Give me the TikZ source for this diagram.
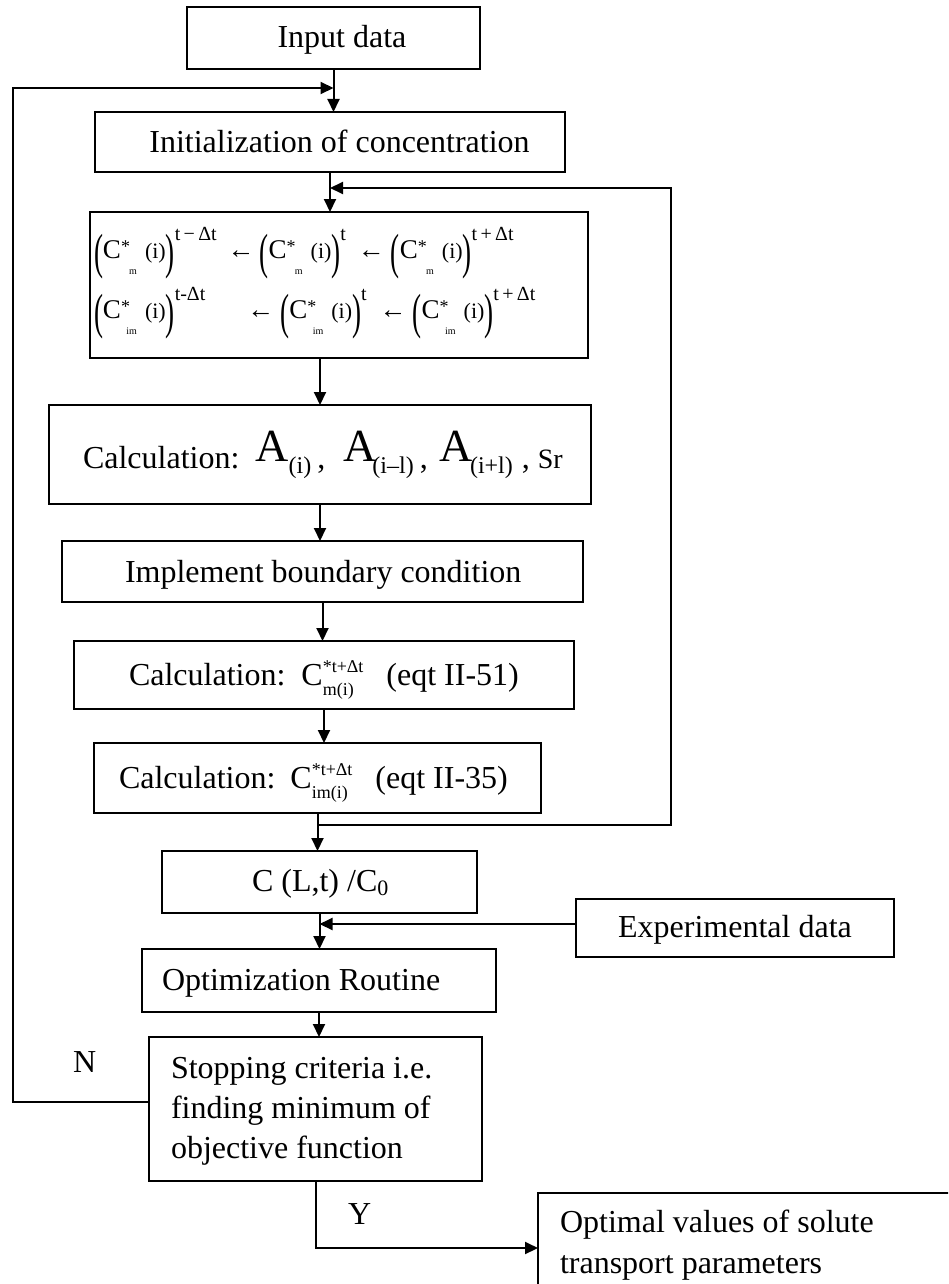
\documentclass[tikz,border=0pt]{standalone}
\usepackage{fontspec}
\setmainfont{Liberation Serif}
\usepackage{graphicx}
\usetikzlibrary{arrows.meta}

\newcommand{\fs}[1]{\fontsize{#1}{#1}\selectfont}
% big stretched parenthesis
\newcommand{\bp}[1]{\raisebox{-5.2pt}{\scalebox{1}[1.83]{#1}}}
% C with star and low subscript
\newcommand{\Cs}[1]{C\rlap{\raisebox{3pt}{\fs{9}*}}\makebox[8pt][r]{\raisebox{-8pt}{\fs{5}#1}}}
\newcommand{\up}[1]{\raisebox{9pt}{\fs{10}#1}}
\newcommand{\term}[2]{\bp{(}\Cs{#1}\hspace{4pt}{\fs{11}(i)}\bp{)}\up{#2}}
% C with superscript over subscript (superscript wider)
\newcommand{\Csc}[2]{\rlap{\raisebox{-5pt}{\fs{9}#2}}\raisebox{6.5pt}{\fs{9}#1}}
% big A with subscript
\newcommand{\Aterm}[2]{\raisebox{3.5pt}{\fs{23}A}\kern#1\raisebox{-2.5pt}{\fs{12}#2}}

\tikzset{
  box/.style={draw, line width=1pt, inner sep=0pt, outer sep=0pt},
  txt/.style={inner sep=0pt, outer sep=0pt, font=\fontsize{16}{20}\selectfont},
  arr/.style={line width=1pt, -{Triangle[length=6.5pt,width=6pt]}},
}

\begin{document}
\begin{tikzpicture}[x=0.5pt,y=-0.5pt]
\useasboundingbox (0,0) rectangle (948,1284);
\clip (0,0) rectangle (948,1284);

% boxes
\node[box, minimum width=146.5pt, minimum height=31pt] (input) at (333.5,38) {};
\node[box, minimum width=235pt, minimum height=30pt] (init) at (330,142) {};
\node[box, minimum width=249pt, minimum height=73pt] (formula) at (339,285) {};
\node[box, minimum width=271pt, minimum height=49.5pt] (calcA) at (320,454.5) {};
\node[box, minimum width=260.5pt, minimum height=30.5pt] (impl) at (322.5,571.5) {};
\node[box, minimum width=250pt, minimum height=34pt] (calcm) at (324,675) {};
\node[box, minimum width=223.5pt, minimum height=35pt] (calcim) at (317.5,778) {};
\node[box, minimum width=157.5pt, minimum height=31pt] (clt) at (319.5,882) {};
\node[box, minimum width=159pt, minimum height=29pt] (exp) at (735,928) {};
\node[box, minimum width=177pt, minimum height=31.5pt] (opt) at (319,980.5) {};
\node[box, minimum width=166.5pt, minimum height=72pt] (stop) at (315.5,1109) {};
\node[box, minimum width=261pt, minimum height=55pt] (optimal) at (799,1248) {};

% texts
\node[txt, anchor=base] (tinput) at (342,48) {Input data};
\node[txt, anchor=base] (tinit) at (339.5,152) {Initialization of concentration};
\node[txt, anchor=base west] (row1) at (94,258) {\fs{13.5}\term{m}{t\,−\,Δt}\hspace{5.5pt}←\hspace{2.5pt}\term{m}{t}\hspace{6pt}←\hspace{3pt}\term{m}{t\,+\,Δt}};
\node[txt, anchor=base west] (row2) at (94,318) {\fs{13.5}\term{im}{t-Δt}\hspace{21pt}←\hspace{3pt}\term{im}{t}\hspace{6.5pt}←\hspace{3pt}\term{im}{t\,+\,Δt}};
\node[txt, anchor=base west] (tcalcA) at (83,468) {Calculation:\hspace{8pt}\Aterm{0pt}{(i)}\hspace{3pt},\hspace{9pt}\Aterm{-2pt}{(i–l)}\hspace{3pt},\hspace{6pt}\Aterm{-1.5pt}{(i+l)}\hspace{4.5pt},\hspace{4pt}{\fs{14}Sr}};
\node[txt, anchor=base west] (timpl) at (125,582) {Implement boundary condition};
\node[txt, anchor=base west] (tcalcm) at (129,685) {Calculation:\hspace{8pt}C\Csc{*t+Δt}{m(i)}\hspace{11.5pt}(eqt II-51)};
\node[txt, anchor=base west] (tcalcim) at (119,788) {Calculation:\hspace{7.5pt}C\Csc{*t+Δt}{im(i)}\hspace{11.5pt}(eqt II-35)};
\node[txt, anchor=base west] (tclt) at (252,891) {C (L,t) /C\raisebox{-2pt}{\fs{11}0}};
\node[txt, anchor=base] (texp) at (735,937) {Experimental data};
\node[txt, anchor=base west] (topt) at (162,990) {Optimization Routine};
\node[txt, anchor=base west] (tstop1) at (171,1078) {Stopping criteria i.e.};
\node[txt, anchor=base west] (tstop2) at (171,1118) {finding minimum of};
\node[txt, anchor=base west] (tstop3) at (171,1158) {objective function};
\node[txt, anchor=base west] (tN) at (73,1072) {N};
\node[txt, anchor=base west] (tY) at (348,1224) {Y};
\node[txt, anchor=base west] (topt1) at (560,1232) {Optimal values of solute};
\node[txt, anchor=base west] (topt2) at (560,1273) {transport parameters};

% loop coordinates
\coordinate (lb) at (13,1102);
\coordinate (lt) at (13,88);
\coordinate (rb) at (671,825);
\coordinate (rt) at (671,188);
\coordinate (ea) at ([yshift=2pt]exp.west);

% connectors
\draw[arr] (input.south) -- (input.south |- init.north);
\draw[arr] (init.south) -- (init.south |- formula.north);
\draw[arr] (formula.south -| calcA.north) -- (calcA.north);
\draw[arr] (calcA.south) -- (calcA.south |- impl.north);
\draw[arr] (impl.south) -- (impl.south |- calcm.north);
\draw[arr] (calcm.south) -- (calcm.south |- calcim.north);
\draw[arr] (calcim.south) -- (calcim.south |- clt.north);
\draw[arr] (clt.south) -- (clt.south |- opt.north);
\draw[arr] (ea) -- (clt.south |- ea);
\draw[arr] (opt.south) -- (opt.south |- stop.north);
\draw[arr] (stop.south) |- (optimal.west);
\draw[arr] ([yshift=3.5pt]stop.west) -- (lb) -- (lt) -- (input.south |- lt);
\draw[arr] (calcim.south |- rb) -- (rb) -- (rt) -- (init.south |- rt);
\end{tikzpicture}
\end{document}
